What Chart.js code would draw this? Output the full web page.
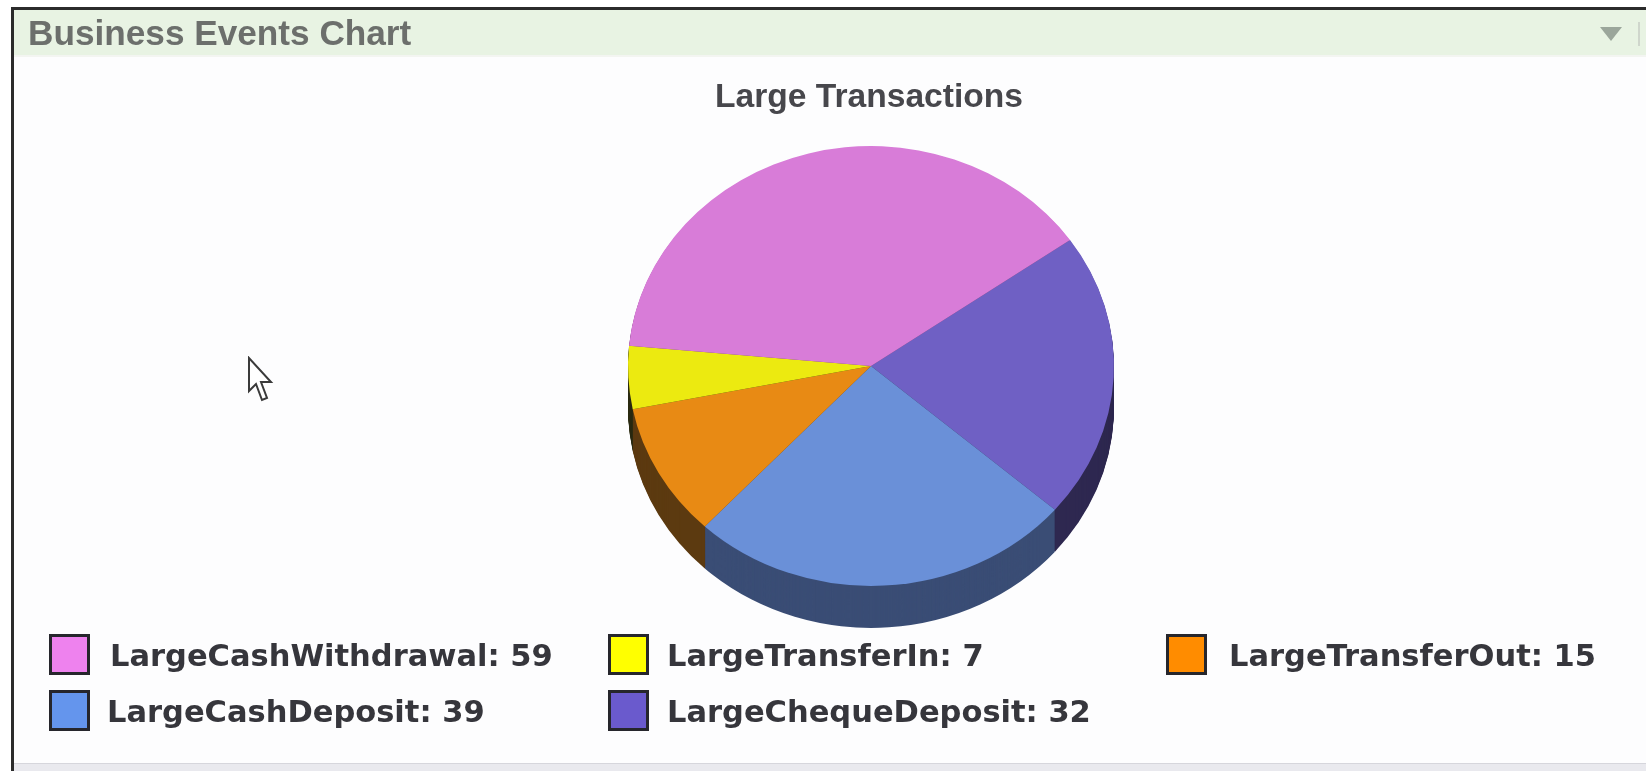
<!DOCTYPE html>
<html><head><meta charset="utf-8">
<script src="https://cdn.jsdelivr.net/npm/chart.js@4"></script>
<style>
html,body{margin:0;padding:0;background:#fff;overflow:hidden}
#stage{position:relative;width:1646px;height:771px;overflow:hidden;background:#fff}
#panel{position:absolute;left:11px;top:7px;width:1640px;height:770px;box-sizing:border-box;border-left:3px solid #2b2b2b;border-top:3px solid #2b2b2b;background:#fdfdfe}
#head{position:absolute;left:14px;top:10px;width:1632px;height:45px;background:#e8f3e3;border-bottom:2px solid #f3f5f1}
#headText{position:absolute;left:28px;top:13px;font:bold 35.2px/40px "Liberation Sans",sans-serif;color:#6c6f6c;white-space:nowrap;filter:blur(.6px)}
#foot{position:absolute;left:14px;top:763px;width:1632px;height:8px;background:#e9e9ee;border-top:1px solid #d6d6dc}
#tri{position:absolute;left:1600px;top:27px;width:0;height:0;border-left:11px solid transparent;border-right:11px solid transparent;border-top:14px solid #9ba69b}
#sep{position:absolute;left:1638px;top:22px;width:2px;height:24px;background:#cfd6cc}
canvas{position:absolute;left:0;top:0}
.sw{position:absolute;width:41px;height:41px;box-sizing:border-box;border:3px solid #26262c}
.lb{position:absolute;font:bold 30.5px/40px "DejaVu Sans",sans-serif;color:#36363c;white-space:nowrap;filter:blur(.5px);transform:translateY(2px)}
#cursor{position:absolute;left:247px;top:356px}
</style></head>
<body><div id="stage">
<div id="panel"></div><div id="head"></div>
<div id="headText">Business Events Chart</div>
<div id="tri"></div><div id="sep"></div><div id="foot"></div>
<canvas id="c" width="1646" height="771"></canvas>
<svg id="cursor" width="28" height="48" viewBox="0 0 28 48"><path d="M2 2 L2 35 L9 28 L15 44 L20 42 L14 26 L24 26 Z" fill="#fff" stroke="#3a3a3a" stroke-width="2"/></svg>
</div>
<script>
const chartTitle = "Large Transactions";
const panelTitle = "Business Events Chart";
const categories = ["LargeCashWithdrawal","LargeTransferIn","LargeTransferOut","LargeCashDeposit","LargeChequeDeposit"];
const values = [59,7,15,39,32];
const topColors = ["#d87cd8","#ecea10","#e88a14","#6a90d8","#6f60c4"];
const sideColors = ["#6c3e6c","#2a2a12","#5c3a10","#3a4d75","#2e2850"];
const legendColors = ["#ee82ee","#ffff00","#ff8c00","#6495ed","#6a5acd"];
const legendSwatchX = [49,608,1166,49,608];
const legendTextX = [110,667,1229,107,667];
const legendRowY = [634,634,634,690,690];

const pieSquash = 0.905, pieDepth = 42;
// the original pie runs anticlockwise from the pink slice; Chart.js runs clockwise
const order = values.map((_,i)=>i).reverse();

const tiltPlugin = {
  id:'tilt',
  afterLayout(chart){ chart.titleBlock.left -= 2; chart.titleBlock.right -= 2; },
  beforeDatasetDraw(chart){
    const ctx = chart.ctx, arcs = chart.getDatasetMeta(0).data;
    const cy = arcs[0].y;
    ctx.save();
    ctx.translate(0,cy); ctx.scale(1,pieSquash); ctx.translate(0,-cy);
    for(let d=pieDepth;d>=1;d--){
      arcs.forEach((a,i)=>{
        ctx.beginPath();
        ctx.moveTo(a.x,a.y+d/pieSquash);
        ctx.arc(a.x,a.y+d/pieSquash,a.outerRadius,a.startAngle,a.endAngle);
        ctx.closePath();
        ctx.fillStyle = sideColors[order[i]];
        ctx.fill();
      });
    }
  },
  afterDatasetDraw(chart){ chart.ctx.restore(); }
};

new Chart(document.getElementById('c'),{
  type:'pie',
  data:{labels:order.map(i=>categories[i]),
    datasets:[{data:order.map(i=>values[i]),backgroundColor:order.map(i=>topColors[i]),borderWidth:0,hoverOffset:0}]},
  options:{
    responsive:false,animation:false,rotation:55,
    layout:{padding:{left:628,right:532,top:0,bottom:162}},
    plugins:{
      legend:{display:false},tooltip:{enabled:false},
      title:{display:true,text:chartTitle,color:'#47474c',
        font:{family:'"Liberation Sans",sans-serif',size:33.6,weight:'bold',lineHeight:1.2},
        padding:{top:78,bottom:4.7}}
    }
  },
  plugins:[tiltPlugin]
});

const stage=document.getElementById('stage');
categories.forEach((name,i)=>{
  const s=document.createElement('div');s.className='sw';
  s.style.left=legendSwatchX[i]+'px';s.style.top=legendRowY[i]+'px';s.style.background=legendColors[i];
  stage.appendChild(s);
  const t=document.createElement('div');t.className='lb';
  t.style.left=legendTextX[i]+'px';t.style.top=legendRowY[i]+'px';
  t.textContent=name+': '+values[i];
  stage.appendChild(t);
});
</script>
</body></html>
